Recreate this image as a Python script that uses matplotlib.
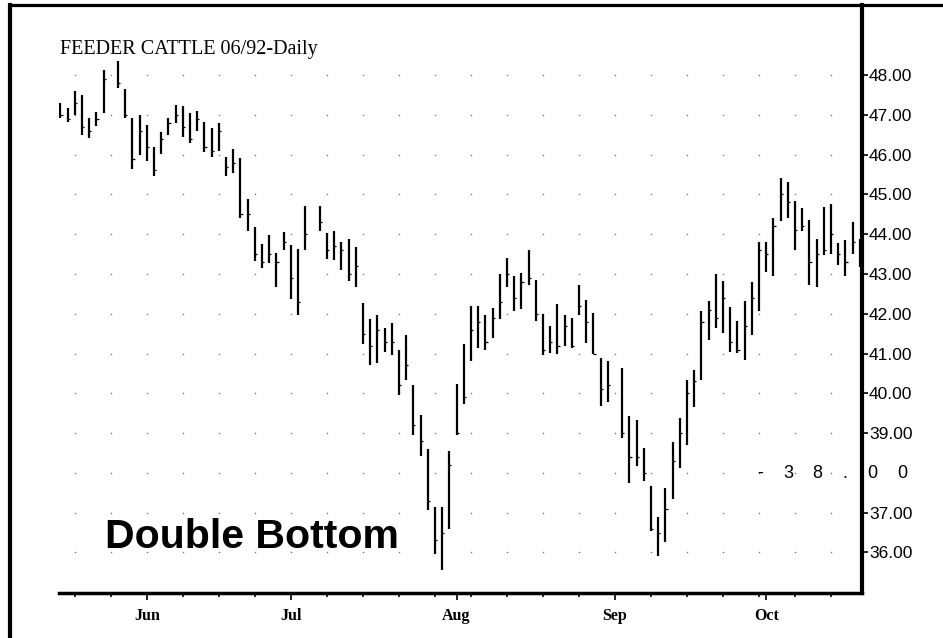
import matplotlib
matplotlib.use("Agg")
import matplotlib.pyplot as plt
from matplotlib.lines import Line2D
import numpy as np
import pandas as pd

W, H = 943, 638

# trading calendar (weekday slots, holidays left empty)
first_day = "1991-05-16"
last_day = "1991-10-18"
holidays = ["1991-05-27", "1991-07-04", "1991-09-02"]

highs = [47.29, 47.18, 47.61, 47.51, 46.93, 47.07, 48.12, 48.34, 47.66, 46.91,
         47.00, 46.74, 46.19, 46.57, 46.91, 47.24, 47.21, 47.04, 47.10, 46.83,
         46.67, 46.80, 45.94, 46.15, 45.91, 44.89, 44.18, 43.74, 43.98, 43.53,
         44.06, 43.73, 43.62, 44.70, 44.70, 44.02, 44.07, 43.81, 43.87, 43.67,
         42.26, 41.87, 41.98, 41.63, 41.77, 41.09, 41.47, 40.22, 39.45, 38.60,
         37.14, 37.14, 38.54, 40.24, 41.24, 42.20, 42.20, 41.98, 42.15, 43.00,
         43.39, 42.96, 43.02, 43.60, 42.85, 42.00, 41.69, 42.24, 41.97, 41.90,
         42.71, 42.34, 42.03, 40.88, 40.80, 40.64, 39.44, 39.33, 38.63, 37.67,
         36.89, 37.61, 38.77, 39.39, 40.33, 40.58, 42.07, 42.32, 42.99, 42.82,
         42.17, 41.82, 42.32, 42.79, 43.81, 43.81, 44.41, 45.40, 45.32, 44.83,
         44.66, 44.35, 43.87, 44.69, 44.77, 43.77, 43.86, 44.30, 43.87]
lows = [46.91, 46.83, 47.00, 46.50, 46.42, 46.72, 47.04, 47.68, 46.93, 45.64,
        46.00, 45.85, 45.47, 46.01, 46.49, 46.79, 46.43, 46.28, 46.59, 46.06,
        45.94, 46.08, 45.45, 45.54, 44.41, 44.07, 43.33, 43.16, 43.28, 42.66,
        43.60, 42.37, 41.98, 43.60, 44.07, 43.37, 43.34, 43.11, 42.82, 42.66,
        41.24, 40.71, 40.75, 41.05, 40.97, 39.95, 40.33, 38.94, 38.42, 37.07,
        35.95, 35.57, 36.59, 38.94, 39.73, 40.80, 41.14, 41.09, 41.39, 41.86,
        42.66, 42.07, 42.11, 42.71, 41.81, 40.97, 41.01, 40.98, 41.18, 41.15,
        41.98, 41.26, 40.98, 39.69, 39.78, 38.88, 37.75, 38.18, 37.80, 36.55,
        35.91, 36.25, 37.35, 38.12, 38.69, 39.65, 40.33, 41.35, 41.64, 41.52,
        41.05, 41.01, 40.84, 41.47, 42.07, 43.05, 42.96, 44.32, 44.41, 43.60,
        44.07, 42.71, 42.66, 43.47, 43.51, 43.22, 42.96, 43.51, 43.17]
closes = [47.0, 46.9, 47.3, 46.7, 46.6, 46.9, 47.9, 47.8, 47.0, 45.9,
          46.6, 46.2, 45.6, 46.4, 46.8, 47.0, 46.7, 46.4, 46.9, 46.2,
          46.1, 46.6, 45.7, 45.8, 44.5, 44.5, 43.5, 43.3, 43.5, 43.3,
          43.8, 42.9, 42.3, 44.0, 44.3, 43.6, 43.7, 43.6, 43.0, 43.2,
          41.5, 41.2, 41.6, 41.3, 41.3, 40.2, 40.7, 39.2, 38.8, 37.3,
          36.3, 36.5, 38.2, 39.0, 39.9, 41.6, 41.8, 41.3, 41.9, 42.3,
          43.0, 42.4, 42.8, 42.9, 42.0, 41.1, 41.3, 41.2, 41.7, 41.2,
          42.2, 41.8, 41.0, 40.1, 40.2, 39.0, 38.4, 38.4, 38.0, 36.6,
          36.5, 37.1, 38.3, 39.0, 40.0, 40.3, 41.8, 42.1, 41.9, 42.4,
          41.3, 41.1, 41.7, 42.4, 43.6, 43.5, 44.2, 45.0, 44.8, 44.1,
          44.2, 43.3, 43.5, 43.6, 44.0, 43.5, 43.3, 43.8, 43.5]

month_labels = ["Jun", "Jul", "Aug", "Sep", "Oct"]
price_levels = [36, 37, 38, 39, 40, 41, 42, 43, 44, 45, 46, 47, 48]
labelled_levels = [36, 37, 39, 40, 41, 42, 43, 44, 45, 46, 47, 48]

days = pd.bdate_range(first_day, last_day)
trade_days = days[~days.isin(pd.to_datetime(holidays))]
x = days.get_indexer(trade_days)
mondays = np.where(days.dayofweek == 0)[0]
month_pos = [np.where(days.month == m)[0][0] for m in (6, 7, 8, 9, 10)]

fig = plt.figure(figsize=(W / 100, H / 100), dpi=100)
ax = fig.add_axes([59 / W, 1 - 593 / H, (862 - 59) / W, (593 - 5) / H])
ax.set_xlim(-0.2, 111.3)
ax.set_ylim(34.98, 49.76)

# dotted grid
gx, gy = np.meshgrid(mondays, price_levels)
ax.scatter(gx.ravel(), gy.ravel(), s=1.2, color="#777777", lw=0, zorder=1)

# bars
ax.vlines(x, lows, highs, color="black", lw=1.6, zorder=3)
ax.hlines(closes, x, x + 0.3, color="black", lw=0.9, zorder=3)

for s in ("left", "top"):
    ax.spines[s].set_visible(False)
ax.spines["right"].set_linewidth(3)
ax.spines["bottom"].set_linewidth(2.5)

ax.yaxis.tick_right()
ax.set_yticks(labelled_levels)
ax.set_yticklabels([f"{v:.2f}" for v in labelled_levels],
                   family=["Liberation Sans", "DejaVu Sans"], fontsize=12.5)
ax.tick_params(axis="y", direction="out", length=4, width=1.2, pad=1)

ax.set_xticks(month_pos)
ax.set_xticklabels(month_labels, family=["Liberation Serif", "DejaVu Serif"],
                   fontsize=11.5, weight="bold")
ax.set_xticks(mondays, minor=True)
ax.tick_params(axis="x", which="major", direction="out", length=5, width=1.2, pad=6)
ax.tick_params(axis="x", which="minor", direction="out", length=3, width=1.2)

# outer frame
fig.add_artist(Line2D([10 / W, 1], [1 - 5 / H, 1 - 5 / H], color="black", lw=2.3))
fig.add_artist(Line2D([10 / W, 10 / W], [0, 1 - 5 / H], color="black", lw=3))

fig.text(60 / W, 1 - 54 / H, "FEEDER CATTLE 06/92-Daily",
         family=["Liberation Serif", "DejaVu Serif"], fontsize=14.5, va="baseline")
fig.text(105 / W, 1 - 548 / H, "Double Bottom", family=["Liberation Sans", "DejaVu Sans"],
         fontsize=29.5, weight="bold", va="baseline")

# the odd spaced 38.00 label
for ch, px in zip("-38.00", [760, 788, 817, 845, 872, 902]):
    fig.text(px / W, 1 - 473 / H, ch, family=["Liberation Sans", "DejaVu Sans"],
             fontsize=13, ha="center", va="center")

fig.savefig("out.png", dpi=100, facecolor="white")
